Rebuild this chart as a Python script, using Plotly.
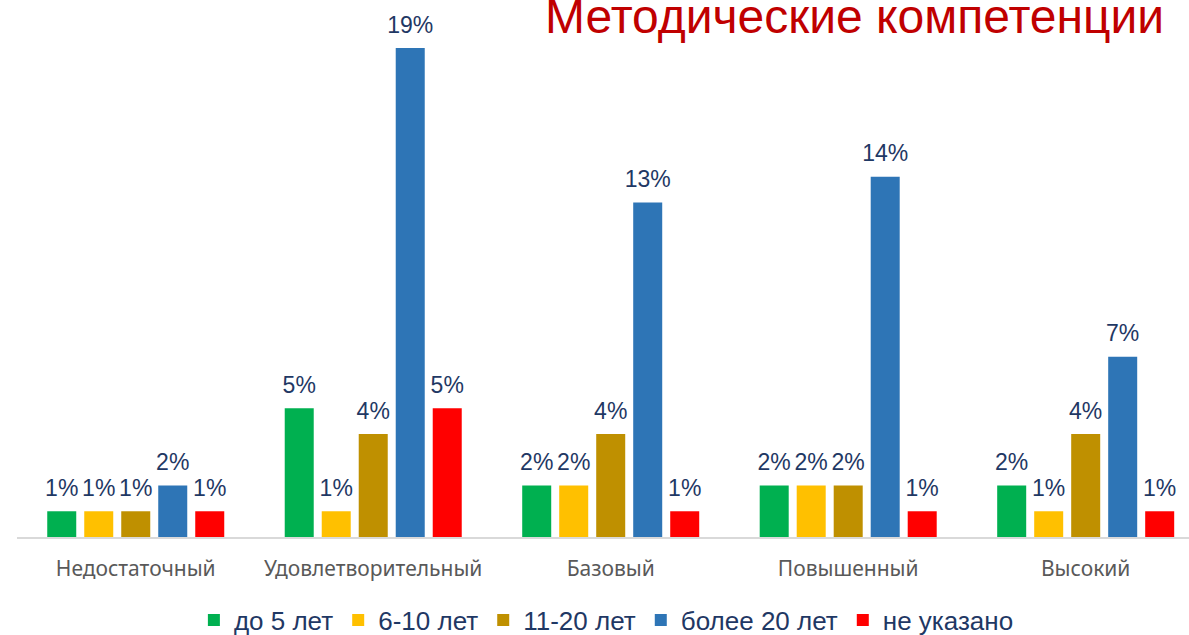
import plotly.graph_objects as go

categories = ["Недостаточный", "Удовлетворительный", "Базовый", "Повышенный", "Высокий"]
series_names = ["до 5 лет", "6-10 лет", "11-20 лет", "более 20 лет", "не указано"]
do_5 = [1, 5, 2, 2, 2]
s6_10 = [1, 1, 2, 2, 1]
s11_20 = [1, 4, 4, 2, 4]
more_20 = [2, 19, 13, 14, 7]
not_given = [1, 5, 1, 1, 1]
series_values = [do_5, s6_10, s11_20, more_20, not_given]
colors = ["#00B050", "#FFC000", "#BF9000", "#2E75B6", "#FF0000"]
title_text = "Методические компетенции"

fig = go.Figure()
for i, (name, vals, col) in enumerate(zip(series_names, series_values, colors)):
    fig.add_trace(go.Bar(
        x=categories, y=vals, name=name,
        marker=dict(color=col, line=dict(width=0)),
        offsetgroup=str(i),
    ))
for i, (name, vals) in enumerate(zip(series_names, series_values)):
    fig.add_trace(go.Scatter(
        x=categories, y=vals, mode="markers+text", showlegend=False,
        text=[f"{v}%" for v in vals], textposition="top center",
        marker=dict(size=14, color="rgba(0,0,0,0)"),
        textfont=dict(family="Liberation Sans, Arial", size=23, color="#1F3864"),
        offsetgroup=str(i), cliponaxis=False, hoverinfo="skip",
    ))

fig.update_layout(
    width=1189, height=635,
    margin=dict(l=17, r=0, t=30, b=98, autoexpand=False),
    paper_bgcolor="white", plot_bgcolor="white",
    barmode="group", bargap=0.221, bargroupgap=0.216,
    scattermode="group", scattergap=0.221,
    showlegend=True,
    legend=dict(orientation="h", x=0.51, xanchor="center", xref="container",
                y=15 / 635, yanchor="middle", yref="container",
                font=dict(family="Liberation Sans, Arial", size=26, color="#1F3864"),
                itemwidth=30, tracegroupgap=0),
    xaxis=dict(range=[-0.5, 4.435], showline=True, linecolor="#D9D9D9", linewidth=1.5,
               ticks="", showgrid=False, automargin=False,
               tickfont=dict(family="Noto Sans, Open Sans", size=21, color="#595959"),
               ticklabelstandoff=12),
    yaxis=dict(range=[0, 19.70], visible=False, showgrid=False, zeroline=False),
    annotations=[dict(text=title_text, xref="paper", yref="paper", x=1.0 - 23 / 1172, y=1.026,
                      xanchor="right", yanchor="middle", showarrow=False,
                      font=dict(family="Liberation Sans, Arial", size=48, color="#C00000"))],
)

fig.write_html("out.html")
